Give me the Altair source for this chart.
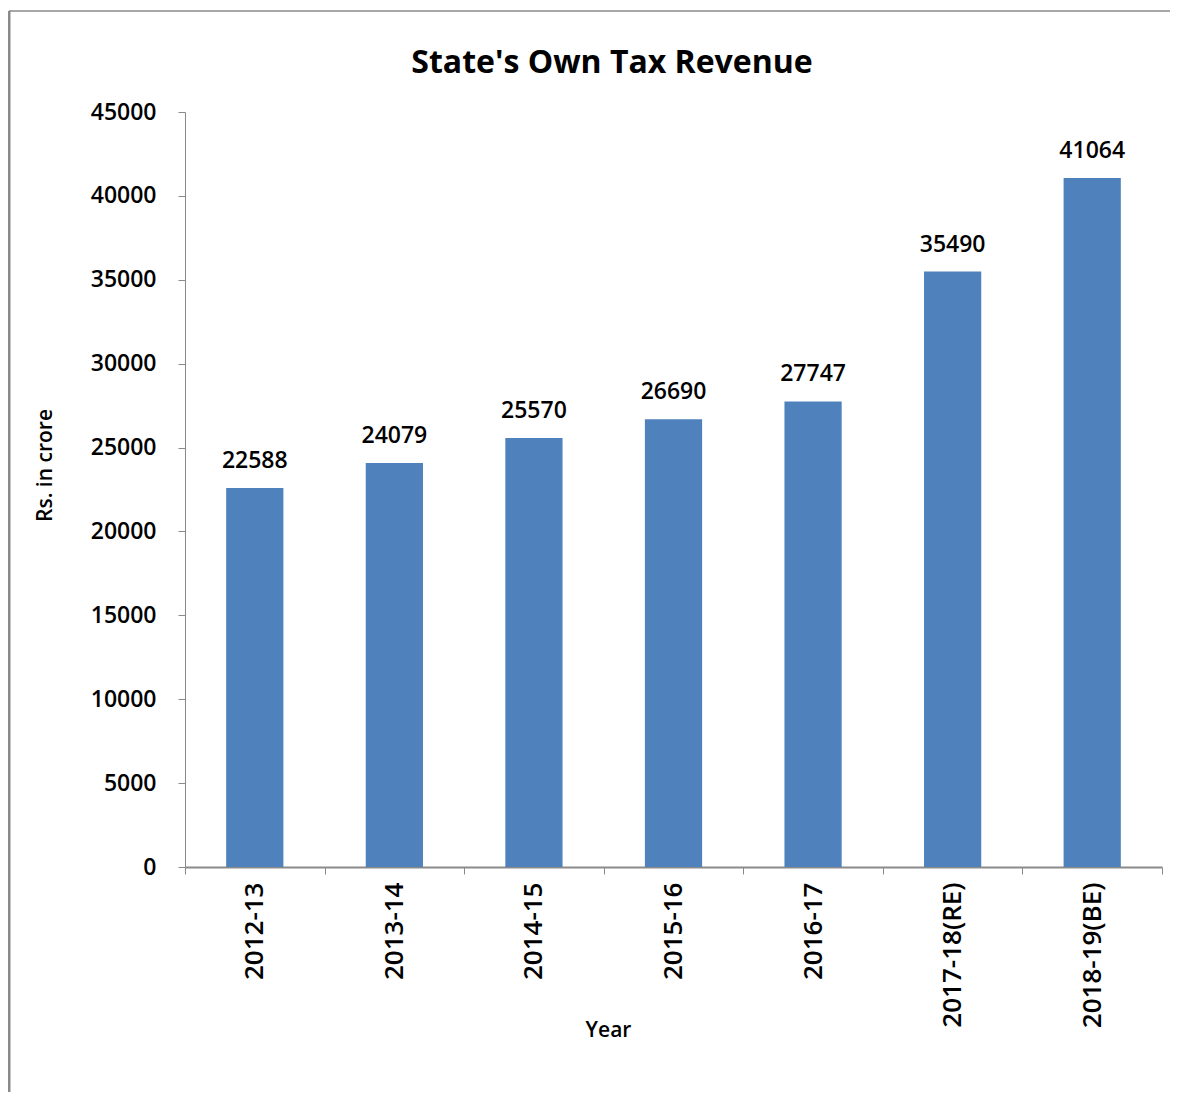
import altair as alt
import pandas as pd

years = ["2012-13", "2013-14", "2014-15", "2015-16", "2016-17", "2017-18(RE)", "2018-19(BE)"]
revenue = [22588, 24079, 25570, 26690, 27747, 35490, 41064]
y_ticks = [0, 5000, 10000, 15000, 20000, 25000, 30000, 35000, 40000, 45000]
title_text = "State's Own Tax Revenue"

df = pd.DataFrame({"Year": years, "Revenue": revenue})
FONT = "Open Sans"
GRAY = "#8a8a8a"
NUM = 23
W = 600

base = alt.Chart(df)

x = alt.X("Year:N", sort=years,
          scale=alt.Scale(paddingInner=0, paddingOuter=0),
          axis=alt.Axis(title="Year", labelAngle=-90, labelAlign="right", labelBaseline="middle",
                        labelPadding=8, labelFont=FONT, labelFontSize=26, labelFontWeight=W,
                        labelColor="black",
                        tickBand="extent", tickSize=7, tickColor=GRAY, domainColor=GRAY, domainWidth=2,
                        titleFont=FONT, titleFontSize=21, titleFontWeight=W, titleColor="black",
                        titleX=423, titleY=163, titleBaseline="middle", titleAlign="center"))
y = alt.Y("Revenue:Q", scale=alt.Scale(domain=[0, 45000], nice=False),
          axis=alt.Axis(title="Rs. in crore", values=y_ticks, grid=False, format="d",
                        labelFont=FONT, labelFontSize=NUM, labelFontWeight=W, labelColor="black",
                        labelPadding=22,
                        tickSize=7, tickColor=GRAY, domainColor=GRAY, domainWidth=1,
                        titleFont=FONT, titleFontSize=21, titleFontWeight=W, titleColor="black",
                        titleX=-140, titleY=353, titleBaseline="middle", titleAlign="center", titleAngle=-90))

bars = base.mark_bar(color="#4F81BD", width=alt.RelativeBandSize(0.41)).encode(x=x, y=y)
labels = base.mark_text(font=FONT, fontSize=NUM, fontWeight=W, color="black",
                        baseline="alphabetic", dy=-20).encode(
    x=alt.X("Year:N", sort=years), y="Revenue:Q", text="Revenue:Q")

one = alt.Chart(pd.DataFrame({"a": [0]}))
left_border = one.mark_rule(color=GRAY, strokeWidth=3).encode(
    x=alt.value(-176), y=alt.value(-101), y2=alt.value(1000))
top_border = one.mark_rule(color=GRAY, strokeWidth=1.5).encode(
    x=alt.value(-176), x2=alt.value(1000), y=alt.value(-101))
title = one.mark_text(font=FONT, fontSize=32, fontWeight="bold", color="black",
                      align="center", baseline="alphabetic").encode(
    x=alt.value(427), y=alt.value(-39), text=alt.value(title_text))

chart = alt.layer(bars, labels, left_border, top_border, title).properties(
    width=977, height=755,
    autosize=alt.AutoSizeParams(type="none"),
    padding={"left": 177, "top": 104, "right": 8, "bottom": 225},
).configure_view(stroke=None)

chart.save("out.html", embed_options={"renderer": "svg", "actions": False})
